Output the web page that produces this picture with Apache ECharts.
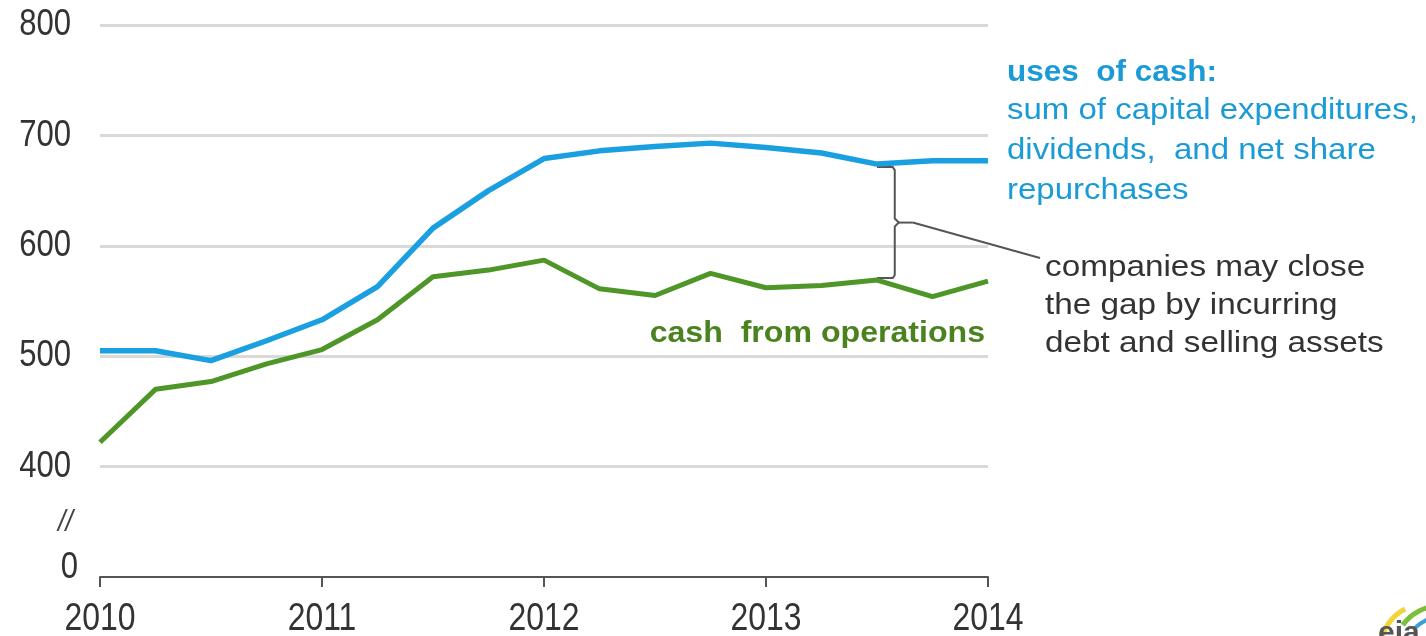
<!DOCTYPE html>
<html><head><meta charset="utf-8">
<script src="https://cdn.jsdelivr.net/npm/echarts@6/dist/echarts.min.js"></script>
<style>html,body{margin:0;padding:0;background:#fff}#c{width:1426px;height:636px}</style>
</head><body><div id="c"></div>
<script>
// quarterly time points (year fractions)
const quarters = [2010, 2010.25, 2010.5, 2010.75, 2011, 2011.25, 2011.5, 2011.75, 2012, 2012.25, 2012.5, 2012.75, 2013, 2013.25, 2013.5, 2013.75, 2014];
// uses of cash (billion dollars)
const usesOfCash = [505, 505, 496, 514, 533, 563, 616, 650, 679, 686, 690, 693, 689, 684, 674, 677, 677];
// cash from operations (billion dollars)
const cashFromOps = [422, 470, 477, 493, 506, 533, 572, 578, 587, 561, 555, 575, 562, 564, 569, 554, 568];
const xTicks = [2010, 2011, 2012, 2013, 2014];
// y ticks: the axis is broken, "0" sits one step below 400
const yTicks = [400, 500, 600, 700, 800];
const yZeroLabel = '0';

(function () {
const FONT = "'Liberation Sans', Arial, sans-serif";
const BLUE = '#1a9fe0', GREEN = '#4f9628';
const chart = echarts.init(document.getElementById('c'), null, {renderer: 'canvas'});

const option = {
  animation: false,
  backgroundColor: '#fff',
  grid: {left: 100, right: 438, top: 25, bottom: 59, containLabel: false},
  xAxis: {
    type: 'value', min: 2010, max: 2014, interval: 1,
    axisLine: {lineStyle: {color: '#555', width: 2}},
    axisTick: {show: true, length: 10, lineStyle: {color: '#555', width: 2}},
    splitLine: {show: false},
    axisLabel: {show: false}
  },
  yAxis: {
    type: 'value', min: 300, max: 800, interval: 100,
    axisLine: {show: false}, axisTick: {show: false},
    splitLine: {show: true, lineStyle: {color: ['transparent', '#d9d9d9', '#d9d9d9', '#d9d9d9', '#d9d9d9', '#d9d9d9'], width: 3}},
    axisLabel: {show: false}
  },
  series: [
    {name: 'uses of cash', type: 'line', data: quarters.map((q, i) => [q, usesOfCash[i]]),
      showSymbol: false, lineStyle: {color: BLUE, width: 5.5}, itemStyle: {color: BLUE}, z: 3},
    {name: 'cash from operations', type: 'line', data: quarters.map((q, i) => [q, cashFromOps[i]]),
      showSymbol: false, lineStyle: {color: GREEN, width: 5}, itemStyle: {color: GREEN}, z: 3}
  ]
};
chart.setOption(option);

const P = (x, y) => chart.convertToPixel({gridIndex: 0}, [x, y]);
const pTop = P(2013.5, usesOfCash[14]);
const pBot = P(2013.5, cashFromOps[14]);
const xb = P(2013.58, 0)[0];
const yT = pTop[1] + 3, yB = pBot[1] - 2, yM = (yT + yB) / 2;
const brk = P(2010, 349);
const zeroPos = P(2010, 300);

const blueText = '#1a9ad6';
const tStyle = (txt, x, y, o, sx) => ({type: 'text', x: x, y: y, scaleX: sx || 1.1, style: Object.assign({text: txt, font: '30px ' + FONT, fill: '#333', textVerticalAlign: 'middle'}, o || {})});

const axisTexts = [];
xTicks.forEach(v => {
  const p = P(v, 300);
  axisTexts.push(tStyle(String(v), p[0], p[1] + 43, {font: '38px ' + FONT, fill: '#333', textAlign: 'center'}, 0.84));
});
yTicks.forEach(v => {
  const p = P(2010, v);
  axisTexts.push(tStyle(String(v), 71, p[1], {font: '37px ' + FONT, fill: '#333', textAlign: 'right'}, 0.84));
});
axisTexts.push(tStyle(yZeroLabel, 78, zeroPos[1] - 9, {font: '37px ' + FONT, fill: '#333', textAlign: 'right'}, 0.84));

chart.setOption({graphic: axisTexts.concat([
  {type: 'polyline', shape: {points: [[pTop[0], yT], [xb - 2, yT], [xb, yT + 3], [xb, yM - 4], [xb + 4, yM], [xb, yM + 4], [xb, yB - 3], [xb - 2, yB], [pBot[0], yB]]},
    style: {stroke: '#555', lineWidth: 2, fill: null}},
  {type: 'line', shape: {x1: xb + 4, y1: yM, x2: xb + 18, y2: yM}, style: {stroke: '#555', lineWidth: 2}},
  {type: 'line', shape: {x1: xb + 18, y1: yM, x2: 1040, y2: 258}, style: {stroke: '#555', lineWidth: 2}},
  tStyle('//', 58, brk[1], {font: 'italic 30px ' + FONT, fill: '#444'}, 0.9),
  tStyle('uses  of cash:', 1007, 73, {font: 'bold 30px ' + FONT, fill: blueText}, 1.05),
  tStyle('sum of capital expenditures,', 1007, 111, {fill: blueText}),
  tStyle('dividends,  and net share', 1007, 151, {fill: blueText}),
  tStyle('repurchases', 1007, 191, {fill: blueText}),
  tStyle('cash  from operations', 985, 334, {font: 'bold 30px ' + FONT, fill: '#4a8220', textAlign: 'right'}, 1.07),
  tStyle('companies may close', 1045, 268, {fill: '#333'}, 1.11),
  tStyle('the gap by incurring', 1045, 306, {fill: '#333'}, 1.11),
  tStyle('debt and selling assets', 1045, 344, {fill: '#333'}, 1.11),
  {type: 'arc', shape: {cx: 1426, cy: 650, r: 46, startAngle: Math.PI * 1.05, endAngle: Math.PI * 1.35}, style: {stroke: '#f2d33a', lineWidth: 5, fill: null}},
  {type: 'arc', shape: {cx: 1440, cy: 652, r: 46, startAngle: Math.PI * 1.2, endAngle: Math.PI * 1.5}, style: {stroke: '#7bbf3a', lineWidth: 5, fill: null}},
  {type: 'arc', shape: {cx: 1445, cy: 660, r: 44, startAngle: Math.PI * 1.25, endAngle: Math.PI * 1.5}, style: {stroke: '#3aa0d8', lineWidth: 4, fill: null}},
  tStyle('eia', 1378, 634, {font: 'bold 30px ' + FONT, fill: '#555'}, 1)
])});
})();
</script></body></html>
